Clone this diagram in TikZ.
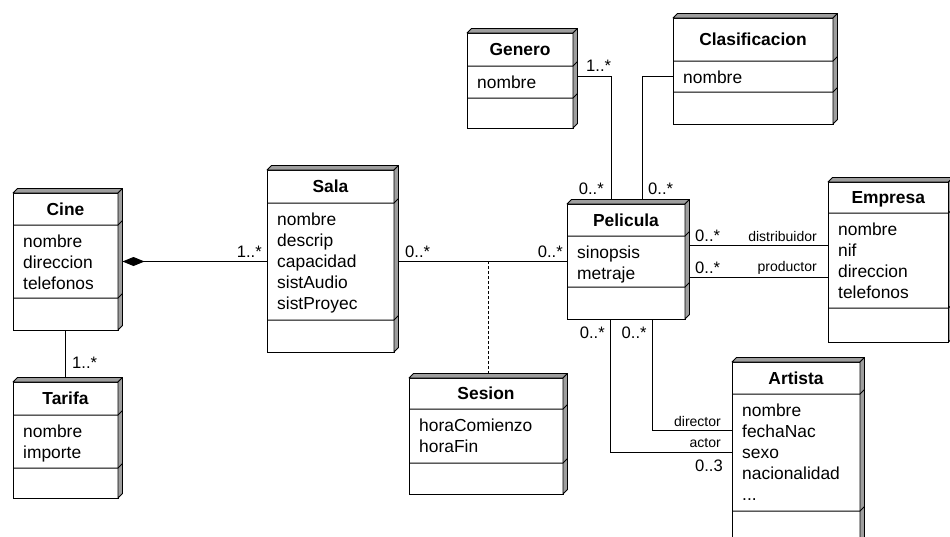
\documentclass[tikz,border=0pt]{standalone}
\usepackage{fontspec}
\setmainfont{Liberation Sans}
\usetikzlibrary{calc,arrows.meta}
\pgfdeclarelayer{background}
\pgfsetlayers{background,main}

\tikzset{
  classframe/.style={draw, fill=white, line width=1pt, inner sep=0pt, outer sep=0pt, anchor=north west},
  sideface/.style={draw, fill=black!38, line width=0.8pt, line join=round},
  classtitle/.style={font=\fontsize{17.4}{21}\selectfont\bfseries, anchor=base, inner sep=0pt},
  classattrs/.style={font=\fontsize{17.4}{21}\selectfont, anchor=north west, align=left, inner sep=0pt},
  mult/.style={font=\fontsize{16.6}{20}\selectfont, inner sep=0pt},
  role/.style={font=\fontsize{14}{17}\selectfont, inner sep=0pt},
  assoc/.style={line width=0.9pt},
  assocclass/.style={line width=0.9pt, dash pattern=on 3pt off 2pt},
}

% UML class box with a raised (3D) look:
% #1 name, #2 left, #3 top, #4 right, #5 bottom, #6 first rule, #7 second rule, #8 title, #9 attributes
\newcommand\umlclass[9]{%
  \node[classframe, minimum width={(#4-#2)*1pt}, minimum height={(#5-#3)*1pt}] (#1) at (#2,#3) {};
  \filldraw[sideface] (#1.north west) -- ++(4.5,-4.5) -- ($(#1.north east)+(4.5,-4.5)$) -- (#1.north east) -- cycle;
  \filldraw[sideface] (#1.north east) -- ++(4.5,-4.5) -- ($(#1.south east)+(4.5,-4.5)$) -- (#1.south east) -- cycle;
  \draw[line width=1pt] (#2,#6) -- (#4,#6) -- ++(4.5,-4.5);
  \draw[line width=1pt] (#2,#7) -- (#4,#7) -- ++(4.5,-4.5);
  \node[classtitle] (#1-title) at ({(#2+#4)/2},{(#3+#6)/2+6}) {#8};
  \node[classattrs] (#1-attrs) at ({#2+10},{#6+9.3}) {#9};
}

\begin{document}
\begin{tikzpicture}[x=1pt, y=-1pt]
  \useasboundingbox (0,0) rectangle (950,536);

  % classes
  \umlclass{cine}{13}{193}{118}{330}{225}{298}{Cine}{nombre\\direccion\\telefonos}
  \umlclass{tarifa}{13}{382}{118}{498}{415}{468}{Tarifa}{nombre\\importe}
  \umlclass{sala}{267}{170}{394}{352}{203}{320}{Sala}{nombre\\descrip\\capacidad\\sistAudio\\sistProyec}
  \umlclass{sesion}{409}{378}{563}{494}{409}{463}{Sesion}{horaComienzo\\horaFin}
  \umlclass{pelicula}{567}{204}{685}{319}{236}{287}{Pelicula}{sinopsis\\metraje}
  \umlclass{genero}{467}{33}{573}{128}{66}{98}{Genero}{nombre}
  \umlclass{clasificacion}{673}{18}{833}{124}{61}{92}{Clasificacion}{nombre}
  \umlclass{empresa}{828}{182}{948.5}{342}{213}{308}{Empresa}{nombre\\nif\\direccion\\telefonos}
  \umlclass{artista}{732}{362}{860}{560}{394}{511}{Artista}{nombre\\fechaNac\\sexo\\nacionalidad\\...}

  % bend points of the associations
  \coordinate (assocpt) at (488,261);
  \coordinate (gbend) at (611,76.7);
  \coordinate (cbend) at (642.3,76.7);
  \coordinate (dbend) at (652.7,430.7);
  \coordinate (abend) at (610.7,452);

  % associations, kept under the boxes
  \begin{pgfonlayer}{background}
    \draw[assoc] (cine) -- (tarifa);
    \draw[assoc, {Diamond[length=22pt,width=9pt]}-] ($(cine.east)+(4.5,0)$) -- (sala.west |- cine.east);
    \draw[assoc] (sala.east) -- (pelicula.west |- sala.east);
    \draw[assocclass] (assocpt) -- (assocpt |- sesion.north);
    \draw[assoc] (genero.east |- gbend) -- (gbend) -- (gbend |- pelicula.north);
    \draw[assoc] (clasificacion.west |- cbend) -- (cbend) -- (cbend |- pelicula.north);
    \draw[assoc] (pelicula.east |- 0,245.7) -- (empresa.west |- 0,245.7);
    \draw[assoc] (pelicula.east |- 0,277.3) -- (empresa.west |- 0,277.3);
    \draw[assoc] (dbend |- pelicula.south) -- (dbend) -- (artista.west |- dbend);
    \draw[assoc] (abend |- pelicula.south) -- (abend) -- (artista.west |- abend);
  \end{pgfonlayer}

  % multiplicities and role names
  \node[mult, anchor=base west] (mCT) at (72,368) {1..*};
  \node[mult, anchor=base east] (mCS) at (262,257) {1..*};
  \node[mult, anchor=base west] (mSP1) at (405,257) {0..*};
  \node[mult, anchor=base east] (mSP2) at (563,257) {0..*};
  \node[mult, anchor=base west] (mGP1) at (586,71.5) {1..*};
  \node[mult, anchor=base east] (mGP2) at (604,194) {0..*};
  \node[mult, anchor=base west] (mCP) at (648,194) {0..*};
  \node[mult, anchor=base west] (mDist) at (695,241.5) {0..*};
  \node[role, anchor=base east] (rDist) at (817,241) {distribuidor};
  \node[mult, anchor=base west] (mProd) at (695,273) {0..*};
  \node[role, anchor=base east] (rProd) at (817,271.5) {productor};
  \node[mult, anchor=base east] (mAct) at (605,338.3) {0..*};
  \node[mult, anchor=base west] (mDir) at (621.5,338.3) {0..*};
  \node[role, anchor=base east] (rDir) at (721,426) {director};
  \node[role, anchor=base east] (rAct) at (721,447.5) {actor};
  \node[mult, anchor=base east] (mArt) at (723,471.5) {0..3};
\end{tikzpicture}
\end{document}
